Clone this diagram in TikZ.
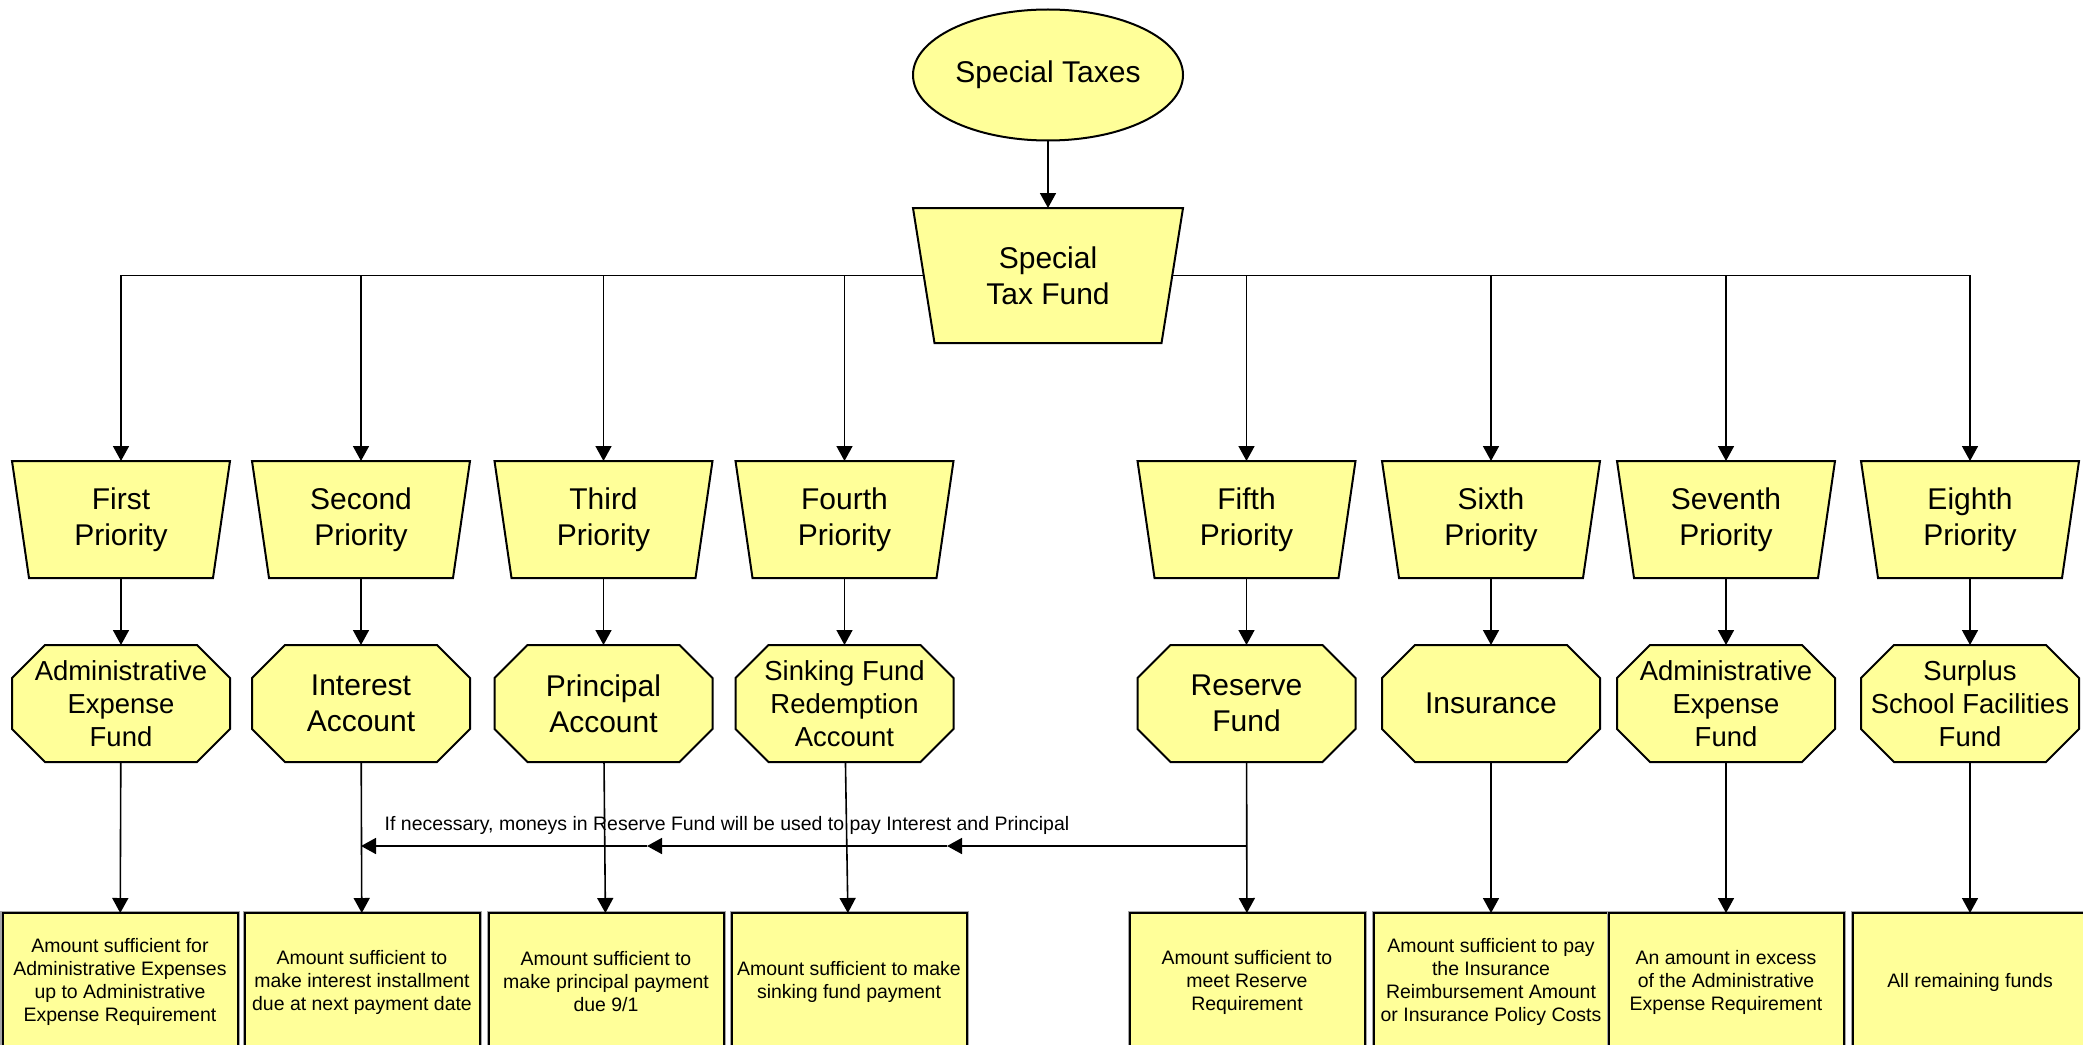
\documentclass[tikz,border=0pt]{standalone}
\usepackage{fontspec}
\setmainfont{Liberation Sans}
\usetikzlibrary{shapes.geometric,arrows.meta,calc,backgrounds}
\definecolor{fillY}{HTML}{FFFF99}
\tikzset{
  every node/.style={inner sep=0pt, outer sep=0pt, align=center},
  shp/.style={draw=black, fill=fillY, line width=1.5pt, line join=miter},
  ftbig/.style={font=\fontsize{22.5pt}{27pt}\selectfont},
  ftmid/.style={font=\fontsize{20.6pt}{24.75pt}\selectfont},
  ftsmall/.style={font=\fontsize{14.6pt}{17.25pt}\selectfont},
  src/.style={ellipse, shp, minimum width=202.5pt, minimum height=98.25pt, ftbig},
  mainfund/.style={minimum width=186.4pt, minimum height=101.25pt, ftbig},
  prio/.style={minimum width=150.75pt, minimum height=87.75pt, ftbig},
  acct/.style={minimum width=163.5pt, minimum height=87.75pt},
  amt/.style={rectangle, draw=black, fill=fillY, line width=1.5pt,
    preaction={draw=black!35, line width=3pt},
    minimum width=176.25pt, minimum height=103.5pt, ftsmall},
  arr/.style={line width=1.2pt, -{Triangle[length=11.25pt,width=12pt]}},
}
\newcommand\trapdraw[2]{\filldraw[shp] ($(#1.north west)+(-#2,0)$) -- ($(#1.north east)+(#2,0)$) -- ($(#1.south east)+(-#2,0)$) -- ($(#1.south west)+(#2,0)$) -- cycle;}
\newcommand\octdraw[2]{\filldraw[shp] ($(#1.north west)+(#2,0)$) -- ($(#1.north east)+(-#2,0)$) -- ($(#1.north east)+(0,#2)$) -- ($(#1.south east)+(0,-#2)$) -- ($(#1.south east)+(-#2,0)$) -- ($(#1.south west)+(#2,0)$) -- ($(#1.south west)+(0,-#2)$) -- ($(#1.north west)+(0,#2)$) -- cycle;}
\begin{document}
\begin{tikzpicture}[x=0.75pt, y=-0.75pt]
\useasboundingbox (0,0) rectangle (2083,1045);
\clip (0,0) rectangle (2083,1045);

% top
\node[src] (st) at (1048,75) {Special Taxes};
\node[mainfund] (stf) at (1048,275.5) {Special\\Tax Fund};

% priorities
\node[prio] (p1) at (121,519.5) {First\\Priority};
\node[prio] (p2) at (361,519.5) {Second\\Priority};
\node[prio] (p3) at (603.5,519.5) {Third\\Priority};
\node[prio] (p4) at (844.5,519.5) {Fourth\\Priority};
\node[prio] (p5) at (1246.5,519.5) {Fifth\\Priority};
\node[prio] (p6) at (1491,519.5) {Sixth\\Priority};
\node[prio] (p7) at (1726,519.5) {Seventh\\Priority};
\node[prio] (p8) at (1970,519.5) {Eighth\\Priority};

% accounts
\node[acct, ftmid] (o1) at (121,703.5) {Administrative\\Expense\\Fund};
\node[acct, ftbig] (o2) at (361,703.5) {Interest\\Account};
\node[acct, ftbig] (o3) at (603.5,703.5) {Principal\\Account};
\node[acct, ftmid] (o4) at (844.5,703.5) {Sinking Fund\\Redemption\\Account};
\node[acct, ftbig] (o5) at (1246.5,703.5) {Reserve\\Fund};
\node[acct, ftbig] (o6) at (1491,703.5) {Insurance};
\node[acct, ftmid] (o7) at (1726,703.5) {Administrative\\Expense\\Fund};
\node[acct, ftmid] (o8) at (1970,703.5) {Surplus\\School Facilities\\Fund};

% amounts
\node[amt] (b1) at (120,982) {Amount sufficient for\\Administrative Expenses\\up to Administrative\\Expense Requirement};
\node[amt] (b2) at (362,982) {Amount sufficient to\\make interest installment\\due at next payment date};
\node[amt] (b3) at (606,982) {Amount sufficient to\\make principal payment\\due 9/1};
\node[amt] (b4) at (849,982) {Amount sufficient to make\\sinking fund payment};
\node[amt] (b5) at (1247,982) {Amount sufficient to\\meet Reserve\\Requirement};
\node[amt] (b6) at (1491,982) {Amount sufficient to pay\\the Insurance\\Reimbursement Amount\\or Insurance Policy Costs};
\node[amt] (b7) at (1726,982) {An amount in excess\\of the Administrative\\Expense Requirement};
\node[amt] (b8) at (1970,982) {All remaining funds};

% shapes behind the texts
\begin{scope}[on background layer]
  \trapdraw{stf}{10.75}
  \foreach \n in {p1,p2,p3,p4,p5,p6,p7,p8} {\trapdraw{\n}{8.5}}
  \foreach \n in {o1,o2,o3,o4,o5,o6,o7,o8} {\octdraw{\n}{33}}
\end{scope}

% connectors
\draw[arr] (st) -- (stf);
\foreach \i in {1,2,3,4,5,6,7,8} {
  \draw[arr] (stf) -| (p\i);
  \draw[arr] (p\i) -- (o\i);
  \draw[arr] (o\i) -- (b\i);
}

% reserve fund transfer
\coordinate (rA) at (1246.5,846);
\coordinate (rB) at (947,846);
\coordinate (rC) at (647,846);
\draw[arr] (rA) -- (rB);
\draw[arr] (rB) -- (rC);
\draw[arr] (rC) -- (rA -| o2.south);
\node[ftsmall] (note) at (727,825) {If necessary, moneys in Reserve Fund will be used to pay Interest and Principal};
\end{tikzpicture}
\end{document}
